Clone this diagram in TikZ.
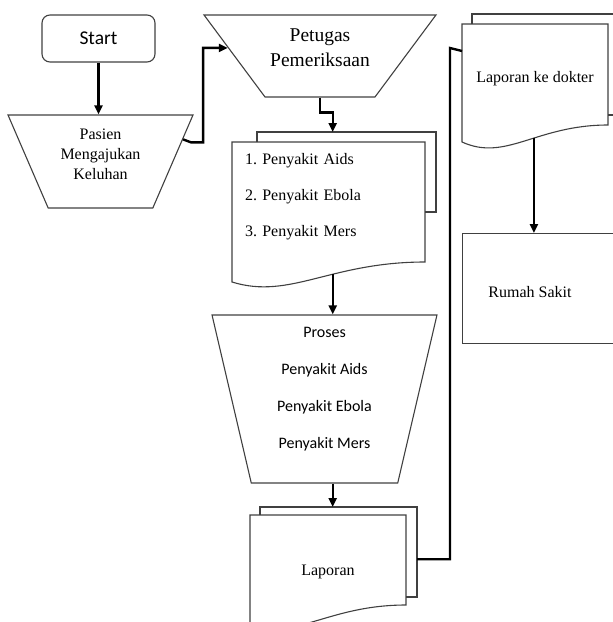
\documentclass[tikz,border=0pt]{standalone}
\usepackage{fontspec}
\setmainfont{Liberation Serif}
\newfontfamily\calibri{Carlito}
\usetikzlibrary{shapes.geometric}
\usetikzlibrary{arrows.meta}
\usetikzlibrary{calc}
\frenchspacing

\begin{document}
\begin{tikzpicture}[x=1pt,y=-1pt,
  outline/.style={draw=black!75,line width=1.1pt},
  conn/.style={line width=2.4pt},
  tip/.style={-{Triangle[length=9pt,width=8pt]}},
  serif/.style={font=\fontsize{16}{20}\selectfont},
  sans/.style={font=\calibri\fontsize{16}{37}\selectfont},
  trap/.style={outline,trapezium,shape border rotate=180,trapezium stretches=true,inner sep=2pt},
  doc/.style={inner sep=0pt,outer sep=0pt}]

\useasboundingbox (0,0) rectangle (613,622);

% Start
\node[outline,rounded corners=8pt,minimum width=113,minimum height=47,font=\calibri\fontsize{19.5}{24}\selectfont] (start) at (98.5,38.5) {Start};

% Pasien
\node[trap,trapezium left angle=69,trapezium right angle=69,minimum width=185,minimum height=93] (pasien) at (100.5,161.5) {};
\node[serif,align=center] (pasientxt) at (100.5,154) {Pasien\\Mengajukan\\Keluhan};

% Petugas
\node[trap,trapezium left angle=61,trapezium right angle=61,minimum width=232,minimum height=82] (petugas) at (320,56) {};
\node[align=center,font=\fontsize{19.5}{25}\selectfont] (petugastxt) at (320,47.5) {Petugas\\Pemeriksaan};

% Daftar penyakit
\node[doc,font=\fontsize{16}{36}\selectfont,text width=167,inner xsep=13,align=left,minimum width=193,minimum height=110,anchor=north] (daftar) at (328.5,142) {1. Penyakit Aids\\2. Penyakit Ebola\\3. Penyakit Mers};
\draw[outline] ($(daftar.north west)+(25,0)$) -- ++(0,-10) coordinate (daftarback) -- ++(179,0) -- ++(0,80) -- ++(-11,0);
\draw[outline] ($(daftar.south west)+(0,30)$) -- (daftar.north west) -- (daftar.north east) -- ($(daftar.south east)+(0,10)$) .. controls +(-95,0) and +(58,18) .. coordinate[pos=0.4] (daftarout) ($(daftar.south west)+(0,30)$) -- cycle;

% Proses
\node[trap,trapezium left angle=75,trapezium right angle=75,minimum width=225,minimum height=168] (proses) at (324.5,399) {};
\node[sans,align=center] (prosestxt) at (324.5,389) {Proses\\Penyakit Aids\\Penyakit Ebola\\Penyakit Mers};

% Laporan
\node[doc,serif,minimum width=156,minimum height=114,anchor=north] (laporan) at (328,515) {Laporan};
\draw[outline] ($(laporan.north west)+(10,0)$) -- ++(0,-8) coordinate (laporanback) -- ++(157,0) -- coordinate[pos=0.58] (laporanside) ++(0,90) -- ++(-11,0);
\draw[outline] ($(laporan.south west)+(0,-4)$) -- (laporan.north west) -- (laporan.north east) -- ($(laporan.south east)+(0,-24)$) .. controls +(-77,0) and +(47,15) .. ($(laporan.south west)+(0,-4)$) -- cycle;

% Laporan ke dokter
\node[doc,serif,minimum width=146,minimum height=110,anchor=north] (dokter) at (535,24) {Laporan ke dokter};
\draw[outline] ($(dokter.north west)+(10,0)$) -- ++(0,-10) -- ++(146,0) -- ++(0,101) -- ++(-10,0);
\draw[outline] ($(dokter.south west)+(0,8)$) -- (dokter.north west) -- (dokter.north east) -- ($(dokter.south east)+(0,-9)$) .. controls +(-72,0) and +(44,20) .. coordinate[pos=0.43] (dokterout) ($(dokter.south west)+(0,8)$) -- cycle;

% Rumah sakit
\node[outline,minimum width=158,minimum height=110,anchor=north west] (rumah) at (462,233) {};
\node[serif] (rumahtxt) at (530,292.5) {Rumah Sakit};

% Arrows
\draw[conn,tip] (start.south) -- (start.south |- pasien.north);
\draw[conn,tip] (pasien.15) -- ++(8,3) -- ++(12,0) |- (petugas.175);
\draw[conn,tip] (petugas.south) -- ++(0,15) -| (daftarout |- daftarback);
\draw[conn,tip] (daftarout) -- (daftarout |- proses.north);
\draw[conn,tip] (daftarout |- proses.south) -- (daftarout |- laporanback);
\draw[conn] (laporanside) -| ($(dokter.west)+(-12,-31)$) -- ($(dokter.west)+(0,-28)$);
\draw[conn,tip] (dokterout) -- (dokterout |- rumah.north);

\end{tikzpicture}
\end{document}
